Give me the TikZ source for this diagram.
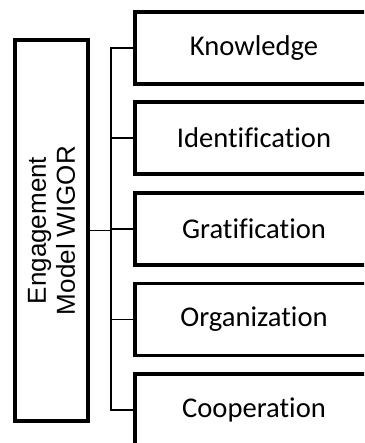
\documentclass[tikz,border=0pt]{standalone}
\usepackage{fontspec}
\setmainfont{Carlito}[Ligatures=NoCommon]
\newfontfamily\leftfont{Liberation Sans}
\begin{document}
\begin{tikzpicture}[x=1pt,y=-1pt,
  box/.style={draw=black,line width=3.3pt,fill=white,inner sep=0pt,minimum width=238pt,minimum height=72pt,font=\fontsize{28.6}{32}\selectfont},
  mainbox/.style={draw=black,line width=3.3pt,fill=white,inner sep=0pt,minimum width=73pt,minimum height=381pt},
  conn/.style={draw=black,line width=1.8pt}]
\useasboundingbox (0,0) rectangle (364,443);
\clip (0,0) rectangle (364,443);
\node[mainbox] (main) at (51.5,230.5) {};
\node[rotate=90,align=center,font=\leftfont\fontsize{26}{29}\selectfont] (mlabel) at (main.center) {Engagement\\Model WIGOR};
\node[box] (b1) at (254,48) {Knowledge};
\node[box] (b2) at (254,138) {Identification};
\node[box] (b3) at (254,229) {Gratification};
\node[box] (b4) at (254,319.5) {Organization};
\node[box] (b5) at (254,410) {Cooperation};
\coordinate (trunk) at (111,230.5);
\draw[conn] (main.east) -- (trunk);
\draw[conn] (trunk) |- (b1.west);
\draw[conn] (trunk) |- (b2.west);
\draw[conn] (trunk) |- (b3.west);
\draw[conn] (trunk) |- (b4.west);
\draw[conn] (trunk) |- (b5.west);
\end{tikzpicture}
\end{document}
